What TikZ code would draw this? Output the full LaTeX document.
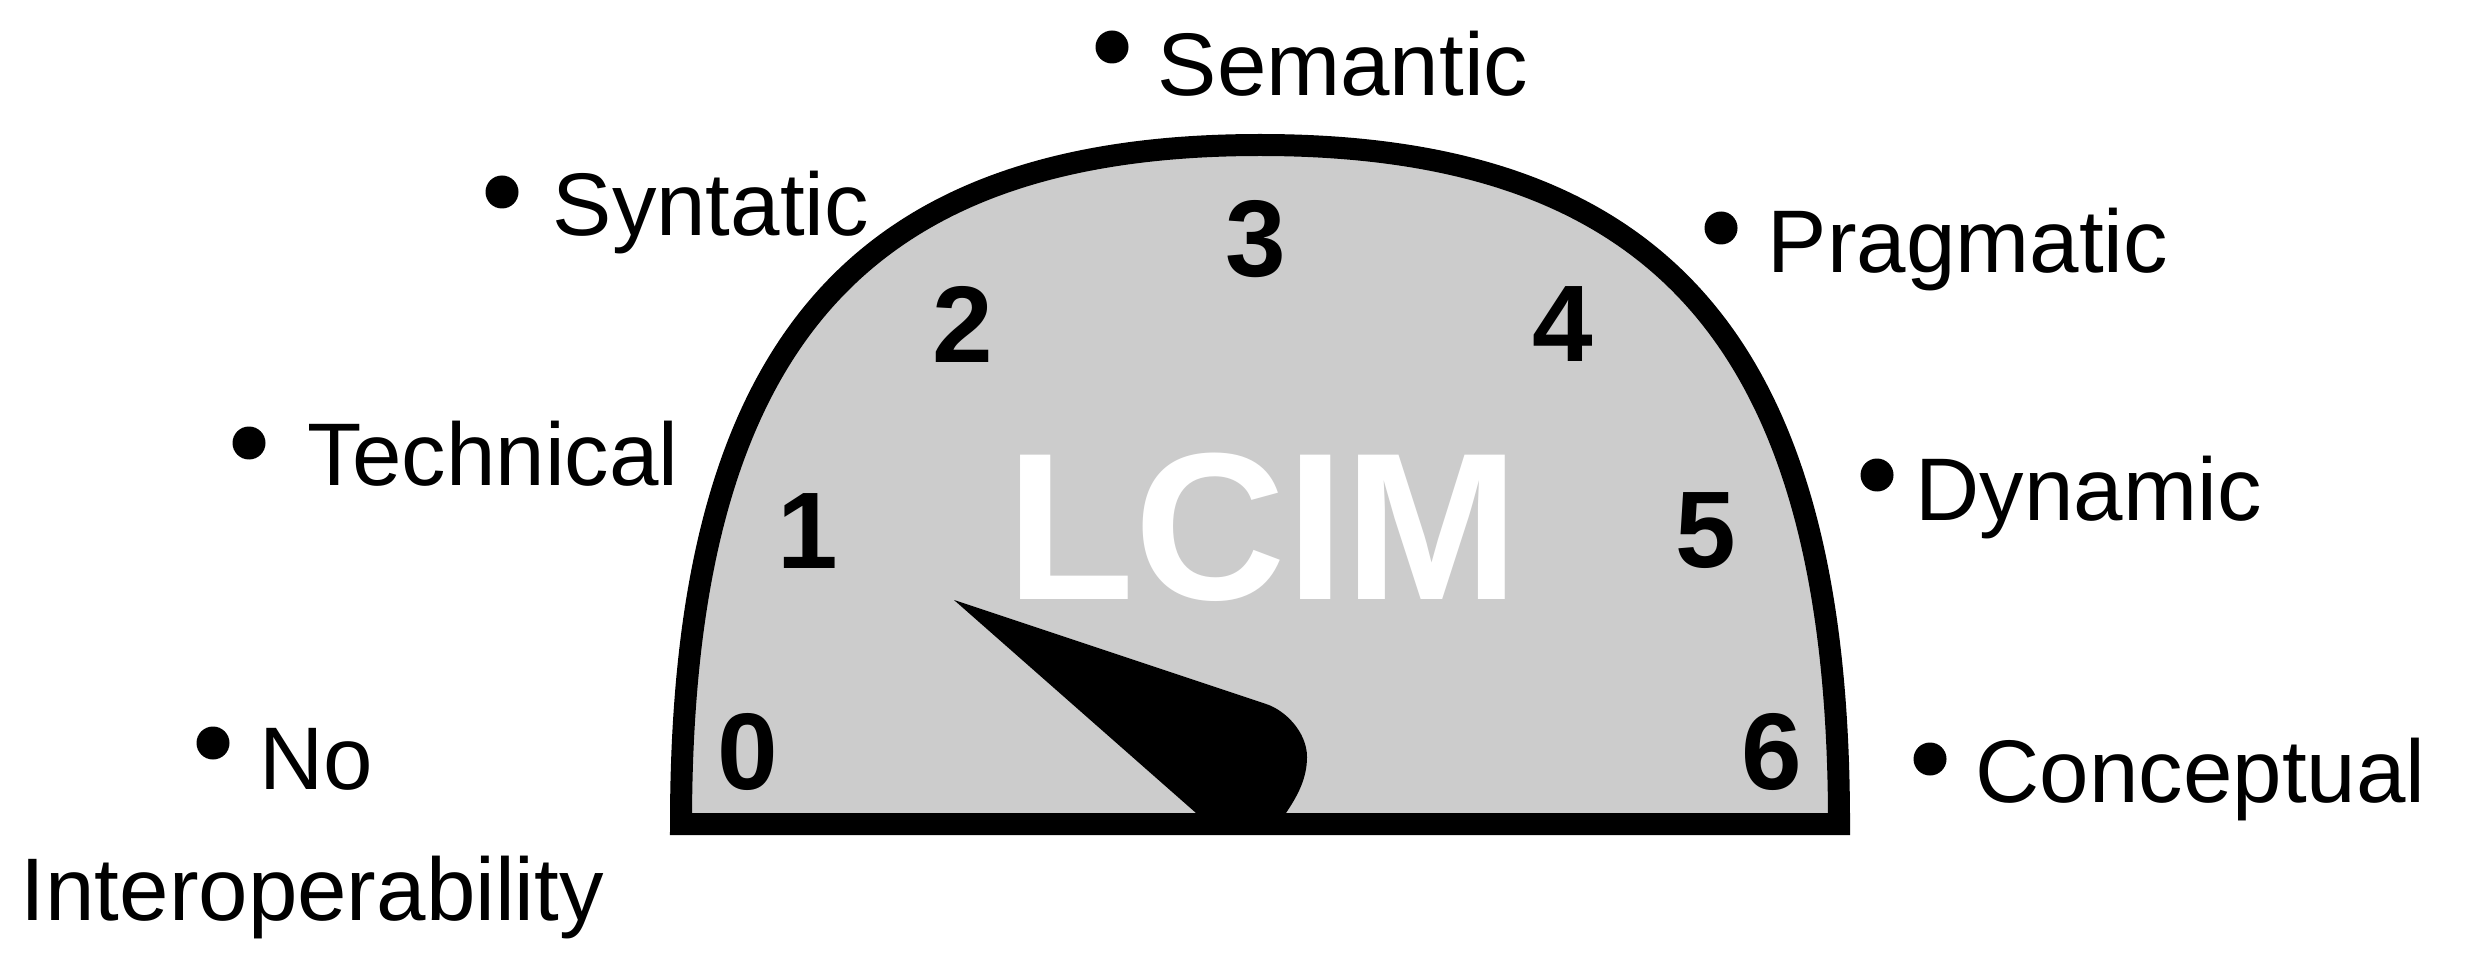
\documentclass[tikz,border=0pt]{standalone}
\usepackage{fontspec}
\setmainfont{Liberation Sans}
\usetikzlibrary{calc}
\tikzset{
	label/.style={anchor=base west, inner sep=0pt, font=\fontsize{25.3}{30}\selectfont},
	digit/.style={inner sep=0pt, font=\fontsize{31}{36}\selectfont\bfseries},
	dot/.style={fill=black}
}
\def\dotrad{0.165}

\begin{document}
\begin{tikzpicture}
		%%%%% START %%%%%
		\useasboundingbox (0, 0) rectangle (24.66, 9.78);
		
		% dial face
		\draw[line width=0.22cm, fill=black!20] (6.81, 1.54) .. controls (6.81, 6.29) and (8.55, 8.33) .. (12.60, 8.33)
			.. controls (16.65, 8.33) and (18.39, 6.29) .. (18.39, 1.54) -- cycle;
		
		% scale
		\node[digit] (d0) at (7.48, 2.26) {0};
		\node[digit] (d1) at (8.08, 4.47) {1};
		\node[digit] (d2) at (9.63, 6.54) {2};
		\node[digit] (d3) at (12.56, 7.39) {3};
		\node[digit] (d4) at (15.63, 6.54) {4};
		\node[digit] (d5) at (17.06, 4.47) {5};
		\node[digit] (d6) at (17.72, 2.26) {6};
		
		\node[inner sep=0pt, text=white, font=\fontsize{59.7}{66}\selectfont\bfseries] (lcim) at (12.63, 4.51) {LCIM};
		
		% needle
		\fill (9.54, 3.78) -- (12.66, 2.74) .. controls (12.85, 2.68) and (13.07, 2.46) .. (13.07, 2.21)
			.. controls (13.07, 1.98) and (12.96, 1.80) .. (12.86, 1.65) -- (11.96, 1.65) -- cycle;
		
		% levels
		\node[label] (noint) at (2.59, 1.89) {No};
		\node[label] (interop) at (0.20, 0.58) {Interoperability};
		\node[label] (tech) at (3.07, 4.93) {Technical};
		\node[label] (synt) at (5.52, 7.42) {Syntatic};
		\node[label] (sem) at (11.57, 8.82) {Semantic};
		\node[label] (prag) at (17.67, 7.06) {Pragmatic};
		\node[label] (dyn) at (19.15, 4.58) {Dynamic};
		\node[label] (conc) at (19.75, 1.76) {Conceptual};
		
		\fill[dot] (2.13, 2.35) circle (\dotrad);
		\fill[dot] (2.49, 5.35) circle (\dotrad);
		\fill[dot] (5.02, 7.86) circle (\dotrad);
		\fill[dot] (11.12, 9.31) circle (\dotrad);
		\fill[dot] (17.21, 7.50) circle (\dotrad);
		\fill[dot] (18.77, 5.03) circle (\dotrad);
		\fill[dot] (19.30, 2.19) circle (\dotrad);
		%%%%% END %%%%%
	\end{tikzpicture}
\end{document}
